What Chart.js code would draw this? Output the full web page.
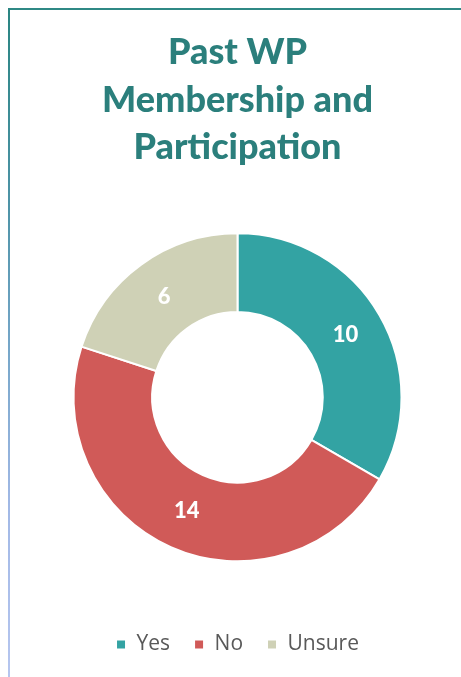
<!DOCTYPE html>
<html>
<head>
<meta charset="utf-8">
<script src="https://cdn.jsdelivr.net/npm/chart.js@4.4.1/dist/chart.umd.min.js"></script>
<style>
  html, body { margin: 0; padding: 0; background: #ffffff; }
  body { width: 461px; height: 677px; position: relative; overflow: hidden; }
  #topline { position: absolute; left: 8px; top: 8px; width: 453px; height: 2px; background: #2f8985; }
  #leftline { position: absolute; left: 8px; top: 8px; width: 2px; height: 669px;
    background: linear-gradient(to bottom, #2a8582 0%, #4f94a8 30%, #75a6c8 50%, #a2b9e6 75%, #b6c6ef 100%); }
  #wrap { position: absolute; left: 14px; top: 0px; width: 447px; height: 677px; }
</style>
</head>
<body>
<div id="topline"></div>
<div id="leftline"></div>
<div id="wrap"><canvas id="c"></canvas></div>
<script>
const titleLines = ['Past WP', 'Membership and', 'Participation'];
const categories = ['Yes', 'No', 'Unsure'];
const values = [10, 14, 6];
const colors = ['#33a3a3', '#d05a58', '#cfd1b6'];

const labelPlugin = {
  id: 'sliceLabels',
  afterDatasetsDraw(chart) {
    const ctx = chart.ctx;
    const meta = chart.getDatasetMeta(0);
    ctx.save();
    ctx.fillStyle = '#ffffff';
    ctx.font = '900 22px Lato, "Open Sans", sans-serif';
    ctx.textAlign = 'center';
    ctx.textBaseline = 'middle';
    meta.data.forEach((arc, i) => {
      const p = arc.tooltipPosition();
      ctx.fillText(String(chart.data.datasets[0].data[i]), p.x, p.y);
    });
    ctx.restore();
  }
};

new Chart(document.getElementById('c'), {
  type: 'doughnut',
  data: {
    labels: categories,
    datasets: [{
      data: values,
      backgroundColor: colors,
      borderColor: '#ffffff',
      borderWidth: 2,
      radius: 164,
      cutout: '52%'
    }]
  },
  options: {
    responsive: true,
    maintainAspectRatio: false,
    animation: false,
    layout: { padding: { bottom: 12 } },
    plugins: {
      title: {
        display: true,
        text: titleLines,
        color: '#2b7f7c',
        font: { family: 'Lato, "Open Sans", sans-serif', size: 36, weight: '900', lineHeight: 1.32 },
        padding: { top: 29, bottom: 13 }
      },
      legend: {
        position: 'bottom',
        labels: {
          color: '#595959',
          font: { family: '"Open Sans", Lato, sans-serif', size: 21 },
          usePointStyle: true,
          pointStyle: 'rect',
          boxWidth: 10,
          boxHeight: 10,
          padding: 24
        }
      },
      tooltip: { enabled: false }
    }
  },
  plugins: [labelPlugin]
});
</script>
</body>
</html>
